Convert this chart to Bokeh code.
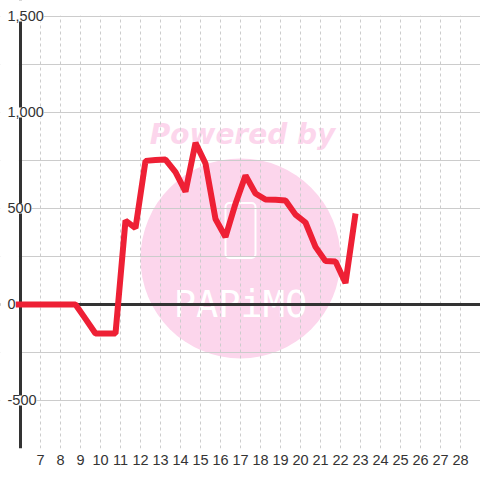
from bokeh.plotting import figure
from bokeh.models import (LinearAxis, FixedTicker, Span, LabelSet, Label,
                          ColumnDataSource, Grid, BoxAnnotation)
from bokeh.embed import file_html
from bokeh.resources import INLINE
from bokeh.core.properties import value

# ---- data ----
days = [5.75, 6.25, 6.75, 7.25, 7.75, 8.25, 8.75, 9.25, 9.75, 10.25, 10.75,
        11.25, 11.75, 12.25, 12.75, 13.25, 13.75, 14.25, 14.75, 15.25, 15.75,
        16.25, 16.75, 17.25, 17.75, 18.25, 18.75, 19.25, 19.75, 20.25, 20.75,
        21.25, 21.75, 22.25, 22.75]
values = [0, 0, 0, 0, 0, 0, 0, -75, -151, -151, -151,
          437, 398, 748, 752, 755, 690, 588, 842, 734, 445,
          352, 525, 672, 578, 547, 545, 542, 468, 427, 300,
          226, 224, 112, 474]
x_ticks = list(range(7, 29))
x_start = 6
y_top = 1500
y_grid = [-750, -500, -250, 0, 250, 500, 750, 1000, 1250, 1500]
y_label_vals = [1500, 1000, 500, 0, -500]
y_label_text = ["1,500", "1,000", "500", "0", "-500"]

FONT = "Liberation Sans"
PINK = "#fcd6ec"

# frame spans the whole width and reaches the top so the outer labels fit
p = figure(width=480, height=480, x_range=(5, 29), y_range=(-750, 1583.3),
           x_axis_type=None, y_axis_type=None,
           output_backend="svg", toolbar_location=None,
           min_border_left=0, min_border_right=0,
           min_border_top=0, min_border_bottom=32)
p.outline_line_color = None
p.background_fill_color = "white"

# watermark (below grid)
p.circle(x=[17], y=[240], radius=100, radius_units="screen",
         fill_color=PINK, line_color=None, level="image")
p.rect(x=[17], y=[385], width=30, height=55, width_units="screen",
       height_units="screen", fill_color=None, line_color="white",
       line_width=2, border_radius=4, level="image")
p.add_layout(Label(x=17.1, y=887, text="Powered by", text_align="center",
                   text_baseline="alphabetic", text_font="DejaVu Sans",
                   text_font_style="bold italic", text_font_size="28px",
                   text_color=PINK, level="image"))
p.add_layout(Label(x=17, y=0, text="PAPiMO", text_align="center",
                   text_baseline="alphabetic", text_font="DejaVu Sans Mono",
                   text_font_size="37px", text_color="white", level="image"))

# grids
p.add_layout(Grid(dimension=0, ticker=FixedTicker(ticks=x_ticks),
                  grid_line_color="#cccccc", grid_line_dash="3 3"))
p.add_layout(Grid(dimension=1, ticker=FixedTicker(ticks=y_grid),
                  grid_line_color="#cccccc"))

# bottom axis (labels only; line provided by the -750 grid line)
xaxis = LinearAxis(ticker=FixedTicker(ticks=x_ticks),
                   axis_line_color=None,
                   major_tick_out=0, major_tick_in=0,
                   minor_tick_out=0, minor_tick_in=0,
                   major_label_standoff=6,
                   major_label_text_font=FONT,
                   major_label_text_font_size="14.5px",
                   major_label_text_color="#333333")
p.add_layout(xaxis, "below")

# zero line
p.add_layout(Span(location=0, dimension="width", line_color="#333333",
                  line_width=3, level="underlay"))

# y axis line
p.add_layout(Span(location=x_start, dimension="height", line_color="#333333",
                  line_width=3, level="underlay"))

# blank areas left of the y axis and above the top grid line
p.add_layout(BoxAnnotation(right=x_start - 0.08, fill_color="white",
                           fill_alpha=1, line_color=None, level="underlay"))
p.add_layout(BoxAnnotation(bottom=y_top + 4, fill_color="white",
                           fill_alpha=1, line_color=None, level="underlay"))

# data line
p.line(days, values, line_color="#ee2035", line_width=6)

# y labels
lab_src = ColumnDataSource(dict(y=y_label_vals, text=y_label_text))
p.add_layout(LabelSet(x=7, y="y", text="text", x_units="screen",
                      source=lab_src, text_align="left",
                      text_baseline="middle", text_font=value(FONT),
                      text_font_size="14.5px", text_color="#333333",
                      background_fill_color="white"))

open("out.html", "w").write(file_html(p, INLINE))
